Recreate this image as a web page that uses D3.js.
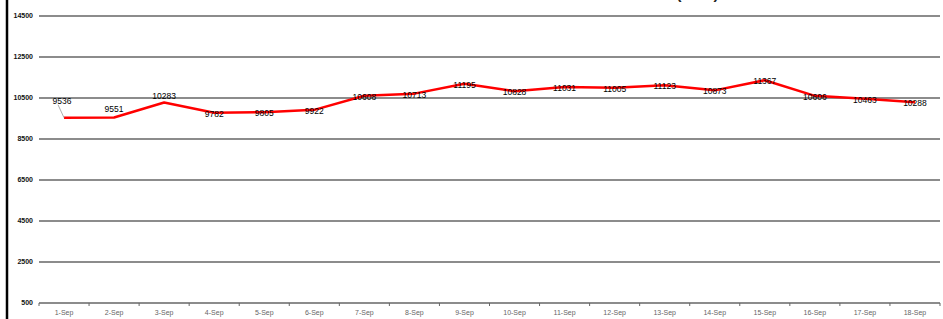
<!DOCTYPE html>
<html>
<head>
<meta charset="utf-8">
<script src="https://cdn.jsdelivr.net/npm/d3@7"></script>
<style>
  body { margin: 0; background: #fff; }
  svg { display: block; font-family: "Liberation Sans", Arial, sans-serif; }
</style>
</head>
<body>
<div id="chart"></div>
<script>
// daily values, September
const days = ["1-Sep","2-Sep","3-Sep","4-Sep","5-Sep","6-Sep","7-Sep","8-Sep","9-Sep",
  "10-Sep","11-Sep","12-Sep","13-Sep","14-Sep","15-Sep","16-Sep","17-Sep","18-Sep"];
const values = [9536, 9551, 10283, 9782, 9805, 9922, 10608, 10713, 11195,
  10828, 11031, 11005, 11123, 10873, 11367, 10606, 10463, 10288];
const yTicks = [500, 2500, 4500, 6500, 8500, 10500, 12500, 14500];

const W = 943, H = 319;
const svg = d3.select("#chart").append("svg").attr("width", W).attr("height", H);

// left frame edge
svg.append("line").attr("x1", 7).attr("x2", 7).attr("y1", 0).attr("y2", H)
  .attr("stroke", "#000").attr("stroke-width", 2.5);

// bottom of the cut-off title (only the brackets peek in)
svg.append("g").selectAll("text").data([["(", 679], [")", 716]]).enter().append("text")
  .attr("x", d => d[1]).attr("y", -1).attr("text-anchor", "middle")
  .attr("font-size", 15).attr("font-weight", "bold").attr("fill", "#222").text(d => d[0]);

var x = d3.scaleBand().domain(days).range([39, 940]);
var y = d3.scaleLinear().domain([500, 14500]).range([303, 16]);

// gridlines
svg.append("g").selectAll("line").data(yTicks.slice(1)).enter().append("line")
  .attr("x1", 39).attr("x2", 940)
  .attr("y1", d => y(d)).attr("y2", d => y(d))
  .attr("stroke", "#666").attr("stroke-width", 1.3);

// y labels
svg.append("g").selectAll("text").data(yTicks).enter().append("text")
  .attr("x", 33).attr("y", d => y(d)).attr("dy", "0.35em")
  .attr("text-anchor", "end").attr("font-size", 7).attr("font-weight", "bold")
  .attr("fill", "#111").text(d => d);

// x axis with ticks on the band edges
var xa = svg.append("g").attr("transform", "translate(0,303)");
xa.append("line").attr("x1", 39).attr("x2", 940).attr("stroke", "#666").attr("stroke-width", 1.3);
xa.selectAll(".tk").data(d3.range(days.length + 1)).enter().append("line")
  .attr("x1", i => 39 + i * x.step()).attr("x2", i => 39 + i * x.step())
  .attr("y1", 0).attr("y2", 3).attr("stroke", "#666");
xa.selectAll("text").data(days).enter().append("text")
  .attr("x", d => x(d) + x.bandwidth() / 2).attr("y", 12)
  .attr("text-anchor", "middle").attr("font-size", 7).attr("fill", "#666")
  .text(d => d);

var cx = (d, i) => x(days[i]) + x.bandwidth() / 2;

var line = d3.line().x(cx).y(d => y(d));
svg.append("path").datum(values).attr("d", line)
  .attr("fill", "none").attr("stroke", "#ff0000").attr("stroke-width", 2.5)
  .attr("stroke-linejoin", "round");

// label placement: first few sit above the line, the rest on it
function lab(i) {
  if (i === 0) return [-2, -17];
  if (i === 1) return [0, -8];
  if (i === 2) return [0, -6];
  return [0, 1];
}

// leader for the first label
svg.append("line")
  .attr("x1", cx(values[0], 0) - 6).attr("y1", y(values[0]) - 13)
  .attr("x2", cx(values[0], 0)).attr("y2", y(values[0]))
  .attr("stroke", "#999").attr("stroke-width", 0.8);

svg.append("g").selectAll("text").data(values).enter().append("text")
  .attr("x", (d, i) => cx(d, i) + lab(i)[0])
  .attr("y", (d, i) => y(d) + lab(i)[1])
  .attr("dy", "0.35em").attr("text-anchor", "middle")
  .attr("font-size", 8.5).attr("fill", "#000")
  .text(d => d);
</script>
</body>
</html>
